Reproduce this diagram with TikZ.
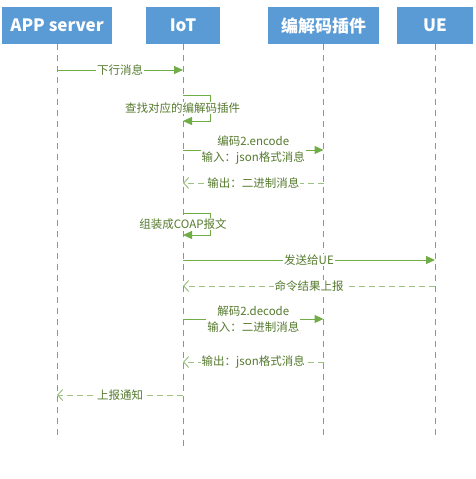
\documentclass[tikz,border=0pt]{standalone}
\usepackage{fontspec}
\setmainfont{Noto Sans CJK SC}
\usepackage{tikz}
\usetikzlibrary{arrows.meta}
\definecolor{boxblue}{HTML}{5B9BD5}
\definecolor{lifegray}{HTML}{7C98B6}
\definecolor{msggreen}{HTML}{70AD47}
\definecolor{retgreen}{HTML}{9BC281}
\definecolor{txtgreen}{HTML}{557A2E}

\begin{document}
\begin{tikzpicture}[x=1pt,y=-1pt,
   actor/.style={rectangle,fill=boxblue,text=white,font=\fontsize{17}{19}\selectfont\bfseries,minimum height=37pt,inner sep=0pt},
   life/.style={lifegray,dash pattern=on 6pt off 5pt,line width=0.8pt},
   msg/.style={msggreen,line width=1pt,-{Triangle[length=9pt,width=8pt]}},
   ret/.style={retgreen,line width=1pt,dash pattern=on 6pt off 4pt,-{Straight Barb[length=5pt,width=11pt]}},
   lbl/.style={fill=white,text=txtgreen,font=\fontsize{11.5}{15.5}\selectfont,inner sep=1pt,align=center}]
   \useasboundingbox (0,0) rectangle (475,479);
   % Boxes
   \node[actor,minimum width=110pt] (app) at (57,25.5) {APP server};
   \node[actor,minimum width=74pt] (iot) at (183,25.5) {IoT};
   \node[actor,minimum width=111pt] (codec) at (323.5,25.5) {编解码插件};
   \node[actor,minimum width=76pt] (ue) at (435,25.5) {UE};
   % Lifelines
   \coordinate (append) at (app.south |- 0,435);
   \coordinate (iotend) at (iot.south |- 0,450);
   \coordinate (codecend) at (codec.south |- 0,435);
   \coordinate (ueend) at (ue.south |- 0,435);
   \draw[life] (app.south) -- (append);
   \draw[life] (iot.south) -- (iotend);
   \draw[life] (codec.south) -- (codecend);
   \draw[life] (ue.south) -- (ueend);
   % Messages
   \coordinate (a1) at (app.south |- 0,70);   \coordinate (i1) at (iot.south |- 0,70);
   \draw[msg] (a1) -- node[lbl] {下行消息} (i1);
   \coordinate (i2) at (iot.south |- 0,95);   \coordinate (i3) at (iot.south |- 0,121);
   \draw[msg] (i2) -- ++(27,0) |- (i3);
   \node[lbl] (find) at (182.5,108) {查找对应的编解码插件};
   \coordinate (i4) at (iot.south |- 0,150);  \coordinate (c4) at (codec.south |- 0,150);
   \draw[msg] (i4) -- node[lbl] {编码2.encode\\输入：json格式消息} (c4);
   \coordinate (c5) at (codec.south |- 0,183); \coordinate (i5) at (iot.south |- 0,183);
   \draw[ret] (c5) -- node[lbl] {输出：二进制消息} (i5);
   \coordinate (i6) at (iot.south |- 0,213);  \coordinate (i7) at (iot.south |- 0,235);
   \draw[msg] (i6) -- ++(27,0) |- (i7);
   \node[lbl] (coap) at (183,224) {组装成COAP报文};
   \coordinate (i8) at (iot.south |- 0,260);  \coordinate (u8) at (ue.south |- 0,260);
   \draw[msg] (i8) -- node[lbl] {发送给UE} (u8);
   \coordinate (u9) at (ue.south |- 0,286);   \coordinate (i9) at (iot.south |- 0,286);
   \draw[ret] (u9) -- node[lbl] {命令结果上报} (i9);
   \coordinate (i10) at (iot.south |- 0,319); \coordinate (c10) at (codec.south |- 0,319);
   \draw[msg] (i10) -- node[lbl] {解码2.decode\\输入：二进制消息} (c10);
   \coordinate (c11) at (codec.south |- 0,362); \coordinate (i11) at (iot.south |- 0,362);
   \draw[ret] (c11) -- node[lbl] {输出：json格式消息} (i11);
   \coordinate (i12) at (iot.south |- 0,395); \coordinate (a12) at (app.south |- 0,395);
   \draw[ret] (i12) -- node[lbl] {上报通知} (a12);
\end{tikzpicture}
\end{document}
